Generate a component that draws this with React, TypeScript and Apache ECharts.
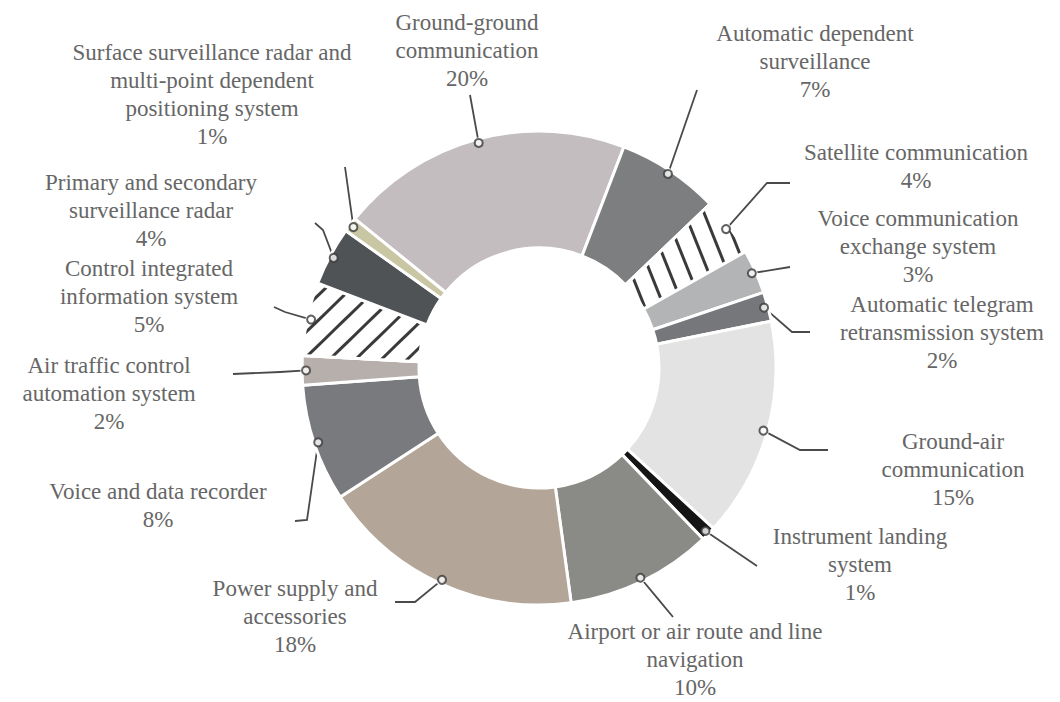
import React, { useEffect, useRef } from 'react';
import * as echarts from 'echarts';

// ---- data ----
const categories = [
  'Ground-ground\ncommunication',
  'Automatic dependent\nsurveillance',
  'Satellite communication',
  'Voice communication\nexchange system',
  'Automatic telegram\nretransmission system',
  'Ground-air\ncommunication',
  'Instrument landing\nsystem',
  'Airport or air route and line\nnavigation',
  'Power supply and\naccessories',
  'Voice and data recorder',
  'Air traffic control\nautomation system',
  'Control integrated\ninformation system',
  'Primary and secondary\nsurveillance radar',
  'Surface surveillance radar and\nmulti-point dependent\npositioning system',
];
const shares = [20, 7, 4, 3, 2, 15, 1, 10, 18, 8, 2, 5, 4, 1];

// ---- styles ----
const sliceColors = [
  '#c4bdc0', '#7d7e80', '#ffffff', '#b3b4b6', '#76777a', '#e3e3e3', '#151515',
  '#8a8b86', '#b3a598', '#797a7d', '#b7afac', '#ffffff', '#505356', '#c9c6a4',
];
// hatch rotation (radians) for the striped slices, null = solid
const hatchRotation: (number | null)[] = [
  null, null, 1.19, null, null, null, null, null, null, null, null, -0.77, null, null,
];

// ---- layout (label placement and leader lines) ----
const CX = 539;
const CY = 368;
const R_IN = 120;
const R_OUT = 237;
const R_MARK = 233;
const START = 141; // degrees, ECharts convention
// label [centre x, top y]
const labelAnchors = [
  [467, 8], [815, 19], [916, 138], [918, 204], [942, 290], [953, 427], [860, 522],
  [695, 617], [295, 574], [158, 477], [109, 351], [149, 254], [151, 168], [212, 38],
];
// leader line points after the marker
const leaderPaths: number[][][] = [
  [[470, 95]],
  [[697, 90]],
  [[767, 183], [790, 183]],
  [[790, 267]],
  [[792, 332], [810, 332]],
  [[800, 450], [828, 450]],
  [[757, 566]],
  [[673, 617]],
  [[415, 602], [395, 602]],
  [[307, 520], [295, 521]],
  [[280, 372], [233, 374]],
  [[285, 312], [274, 307]],
  [[323, 230], [315, 223]],
  [[345, 167]],
];

const total = shares.reduce((a, b) => a + b, 0);
const midValues: number[] = [];
{
  let acc = 0;
  for (const v of shares) {
    midValues.push(((acc + v / 2) / total) * 100);
    acc += v;
  }
}

function markerPoint(i: number): number[] {
  // clockwise angle from 12 o'clock
  const theta = ((90 - START) + (midValues[i] / 100) * 360) * Math.PI / 180;
  return [CX + R_MARK * Math.sin(theta), CY - R_MARK * Math.cos(theta)];
}

export default function App() {
  const ref = useRef<HTMLDivElement>(null);
  useEffect(() => {
    if (!ref.current) return;
    const chart = echarts.init(ref.current, undefined, { renderer: 'svg' });
    const data = categories.map((name, i) => {
      const rot = hatchRotation[i];
      const itemStyle: any = { color: sliceColors[i] };
      if (rot !== null) {
        itemStyle.decal = {
          symbol: 'rect',
          symbolSize: 1,
          dashArrayX: [1, 0],
          dashArrayY: [3, 15],
          rotation: rot,
          color: '#3a3a3a',
          backgroundColor: '#ffffff',
        };
      }
      return { name, value: shares[i], itemStyle };
    });
    const option: any = {
      animation: false,
      backgroundColor: '#ffffff',
      polar: { center: [CX, CY], radius: R_OUT },
      angleAxis: {
        type: 'value', min: 0, max: 100, startAngle: START, clockwise: true, show: false,
      },
      radiusAxis: { type: 'value', min: 0, max: R_OUT, show: false },
      series: [
        {
          type: 'pie',
          center: [CX, CY],
          radius: [R_IN, R_OUT],
          startAngle: START,
          clockwise: true,
          silent: true,
          data,
          itemStyle: { borderColor: '#ffffff', borderWidth: 3 },
          label: {
            show: true,
            position: 'outside',
            formatter: '{b}\n{c}%',
            fontFamily: 'Liberation Serif',
            fontSize: 23,
            lineHeight: 28,
            color: '#666666',
            align: 'center',
          },
          labelLine: {
            show: true,
            lineStyle: { color: '#4a4a4a', width: 1.8 },
          },
          labelLayout: (params: any) => {
            const i = params.dataIndex;
            const m = markerPoint(i);
            const p = leaderPaths[i];
            const pts = p.length === 1
              ? [m, [(m[0] + p[0][0]) / 2, (m[1] + p[0][1]) / 2], p[0]]
              : [m, p[0], p[1]];
            return {
              x: labelAnchors[i][0],
              y: labelAnchors[i][1],
              align: 'center',
              verticalAlign: 'top',
              labelLinePoints: pts,
            };
          },
        },
        {
          type: 'scatter',
          coordinateSystem: 'polar',
          silent: true,
          z: 5,
          symbol: 'emptyCircle',
          symbolSize: 8,
          itemStyle: { color: '#3a3a3a', borderWidth: 2 },
          data: midValues.map((v) => [R_MARK, v]),
        },
      ],
    };
    chart.setOption(option);
    return () => chart.dispose();
  }, []);
  return (
    <div
      ref={ref}
      style={{ position: 'fixed', left: 0, top: 0, width: 1060, height: 702, background: '#fff' }}
    />
  );
}
